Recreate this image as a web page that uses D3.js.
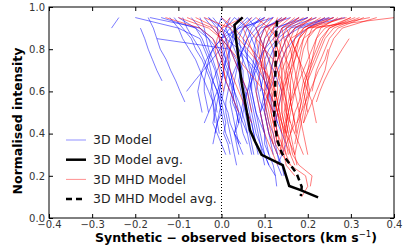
<!DOCTYPE html>
<html>
  <head>
    <meta charset="UTF-8">
    <title>Bisectors</title>
    <script src="https://d3js.org/d3.v7.min.js"></script>
    <style>
      body { margin: 0; background: #fff; }
      text { font-family: "DejaVu Sans", sans-serif; }
    </style>
  </head>
  <body>
    <div id="chart-container"></div>
  <script type="text/javascript">

    // Normalised intensity levels at which each bisector is sampled
    const levels = [0.95, 0.90, 0.85, 0.80, 0.75, 0.70, 0.65, 0.60, 0.55,
                    0.50, 0.45, 0.40, 0.35, 0.30, 0.25, 0.20, 0.15, 0.10];

    // 3D Model bisectors (x offsets, one value per level, null = not sampled)
    const modelBisectors = [
        [-0.238, -0.255],
        [null, -0.188, -0.178, -0.170, -0.160, -0.150, -0.138],
        [-0.17, -0.158, -0.150, -0.142, -0.128, -0.118, -0.106, -0.096, -0.085],
        [0.06, 0.035, 0.012, -0.003, -0.022, -0.042, -0.062, -0.081],
        [-0.166, -0.05, -0.02, -0.005, 0.005, 0.015, 0.02, 0.03, 0.04, 0.048, 0.055, 0.06],
        [null, null, -0.15, 0.02, 0.035, 0.04, 0.045, 0.05, 0.055, 0.06, 0.07, 0.075, 0.08],
        [-0.12, -0.10, -0.09, -0.075, -0.06, -0.05, -0.04, -0.03, -0.02, -0.018, -0.015],
        [-0.09, -0.08, -0.065, -0.05, -0.04, -0.03, -0.02, -0.01, 0.0, 0.005, 0.01, 0.005, 0.015, 0.02],
        [-0.05, -0.04, -0.035, -0.03, -0.02, -0.012, -0.005, 0.0, -0.005, 0.0, -0.01, -0.015],
        [0.0, -0.01, -0.005, 0.0, 0.01, 0.02, 0.025, 0.03, 0.025, 0.035, 0.04, 0.03, 0.045],
        [0.02, 0.01, 0.02, 0.03, 0.04, 0.05, 0.05, 0.06, 0.065, 0.07, 0.075, 0.08, 0.09, 0.1, 0.11, 0.125, 0.128],
        [0.1, 0.06, 0.05, 0.055, 0.06, 0.07, 0.075, 0.08, 0.085, 0.09, 0.095, 0.1, 0.1, 0.11],
        [0.15, 0.1, 0.08, 0.075, 0.08, 0.085, 0.09, 0.095, 0.1, 0.105, 0.11, 0.12, 0.125, 0.13, 0.135],
        [0.2, 0.12, 0.1, 0.095, 0.09, 0.095, 0.1, 0.11, 0.115, 0.12, 0.125],
        [0.286, 0.18, 0.14, 0.12, 0.11, 0.1, 0.095, 0.09],
        [0.25, 0.16, 0.13, 0.11, 0.1, 0.1, 0.105, 0.11, 0.11, 0.12, 0.13, 0.14, 0.15, 0.14, 0.13, 0.14],
        [-0.02, 0.0, 0.01, 0.015, 0.02, 0.015, 0.01, 0.005, 0.0, -0.005, -0.01, -0.015, -0.02],
        [0.04, 0.03, 0.025, 0.02, 0.015, 0.02, 0.025, 0.03, 0.035, 0.04, 0.05, 0.06, 0.065, 0.07],
        [-0.14, -0.06, -0.03, -0.01, 0.0, 0.01, 0.02, 0.025, 0.03, 0.035, 0.04],
        [-0.2, -0.1, -0.05, -0.04, -0.03, -0.025, -0.02, -0.01, -0.005, 0.0, 0.005, 0.01, 0.02],
        [0.08, 0.05, 0.04, 0.045, 0.05, 0.045, 0.04, 0.045, 0.05, 0.055, 0.06, 0.065, 0.07, 0.075],
        [0.12, 0.08, 0.06, 0.05, 0.04, 0.035, 0.03, 0.025, 0.02, 0.025, 0.03, 0.035, 0.04],
        [0.18, 0.13, 0.11, 0.1, 0.09, 0.08, 0.07, 0.06, 0.05, 0.045, 0.04],
        [-0.03, -0.01, 0.01, 0.04, 0.06, 0.08, 0.09, 0.095, 0.1, 0.1, 0.105, 0.11, 0.115, 0.12],
        [0.03, 0.06, 0.07, 0.08, 0.075, 0.07, 0.065, 0.06, 0.055, 0.05, 0.045, 0.05, 0.06],
        [-0.07, -0.05, -0.03, -0.02, -0.01, 0.0, 0.01, 0.02, 0.03, 0.04, 0.035, 0.03, 0.04, 0.05],
        [0.22, 0.15, 0.12, 0.1, 0.085, 0.075, 0.07, 0.065, 0.07, 0.075, 0.08, 0.085, 0.09, 0.095, 0.1],
        [0.1, 0.05, 0.03, 0.02, 0.01, 0.005, 0.0, -0.01, -0.02, -0.03, -0.04],
        [0.05, 0.02, 0.0, -0.02, -0.03, -0.035, -0.04, -0.04, -0.035, -0.03],
        [0.14, 0.1, 0.09, 0.085, 0.08, 0.075, 0.08, 0.085, 0.09, 0.1, 0.105, 0.11, 0.12, 0.13, 0.14, 0.145],
        [0.0, 0.02, 0.03, 0.04, 0.05, 0.06, 0.065, 0.07, 0.075, 0.08, 0.09, 0.1],
        [-0.1, -0.06, -0.045, -0.035, -0.025, -0.015, -0.01, -0.005, 0.005, 0.015, 0.02, 0.03, 0.035, 0.04],
        [0.26, 0.17, 0.15, 0.14, 0.13, 0.125, 0.12],
        [0.07, 0.04, 0.02, 0.01, 0.0, -0.01, -0.02, -0.025, -0.02, -0.015, -0.01, -0.005],
        [-0.04, -0.02, 0.0, 0.02, 0.03, 0.04, 0.05, 0.055, 0.06, 0.065, 0.07, 0.075, 0.08, 0.085],
        [0.03, 0.01, 0.0, 0.005, 0.01, 0.005, 0.0, -0.005, -0.01, -0.015, -0.02, -0.01, 0.0, 0.01],
        [0.16, 0.09, 0.07, 0.06, 0.06, 0.065, 0.07, 0.07, 0.075, 0.08, 0.085, 0.09, 0.095, 0.1, 0.11],
        [-0.03, 0.0, 0.03, 0.05, 0.07, 0.085, 0.1, 0.11, 0.12, 0.125, 0.13],
        [0.06, 0.08, 0.09, 0.1, 0.11, 0.12, 0.13, 0.14, 0.135, 0.13, 0.125, 0.13],
        [0.12, 0.04, 0.0, -0.02, -0.035, -0.045, -0.05, -0.055, -0.05, -0.045],
        [0.2, 0.14, 0.13, 0.12, 0.12, 0.115, 0.11, 0.1, 0.095, 0.09, 0.095, 0.1, 0.105, 0.11, 0.12, 0.125],
        [-0.11, -0.09, -0.07, -0.06, -0.045, -0.035, -0.025, -0.02, -0.015, -0.01],
        [0.24, 0.2, 0.17, 0.15, 0.14, 0.13, 0.12, 0.11, 0.1, 0.09],
        [0.09, 0.07, 0.06, 0.05, 0.04, 0.03, 0.02, 0.015, 0.01, 0.01, 0.015, 0.02, 0.025, 0.03, 0.035]
    ];

    // 3D MHD Model bisectors
    const mhdBisectors = [
        [0.402, 0.2, 0.16, 0.15, 0.14, 0.135, 0.13, 0.13, 0.125, 0.13, 0.135, 0.14],
        [0.344, 0.22, 0.19, 0.18, 0.17, 0.16, 0.155, 0.15, 0.15, 0.145, 0.15, 0.155],
        [null, null, 0.296, 0.28, 0.265, 0.25, 0.238, 0.228, 0.22],
        [null, null, null, 0.247, 0.24, 0.225, 0.215, 0.205, 0.195, 0.185, 0.175],
        [0.3, 0.25, 0.23, 0.22, 0.21, 0.2, 0.19, 0.185, 0.18, 0.17, 0.165, 0.16],
        [0.28, 0.22, 0.2, 0.19, 0.185, 0.18, 0.175, 0.17, 0.165, 0.16, 0.155, 0.15, 0.145, 0.15],
        [0.25, 0.2, 0.18, 0.17, 0.165, 0.16, 0.15, 0.14, 0.135, 0.13, 0.125, 0.13, 0.135, 0.14],
        [0.22, 0.17, 0.15, 0.14, 0.13, 0.12, 0.115, 0.11, 0.105, 0.1, 0.105, 0.11, 0.12],
        [0.18, 0.14, 0.13, 0.125, 0.12, 0.115, 0.11, 0.11, 0.105, 0.11, 0.115, 0.12, 0.125, 0.14, 0.16, 0.195, 0.2, 0.186],
        [0.15, 0.12, 0.11, 0.1, 0.095, 0.09, 0.085, 0.08, 0.085, 0.09, 0.095, 0.1, 0.11, 0.12, 0.13],
        [-0.13, -0.05, -0.02, -0.01, 0.0, 0.005, 0.01, 0.02, 0.03, 0.04],
        [-0.1, -0.03, 0.0, 0.01, 0.015, 0.02, 0.03, 0.04, 0.05, 0.06, 0.07],
        [-0.06, -0.01, -0.005, 0.0, 0.002, 0.005, 0.01],
        [0.05, 0.0, -0.01, -0.015, -0.01, -0.005, 0.0, 0.005],
        [0.0, 0.03, 0.05, 0.07, 0.09, 0.1, 0.11, 0.12, 0.125, 0.13, 0.14, 0.15, 0.16, 0.17],
        [0.1, 0.08, 0.09, 0.1, 0.11, 0.115, 0.12, 0.125, 0.13, 0.135, 0.14, 0.145, 0.15, 0.155],
        [0.2, 0.16, 0.15, 0.16, 0.165, 0.17, 0.175, 0.18, 0.185, 0.18, 0.175, 0.17],
        [0.26, 0.21, 0.2, 0.2, 0.205, 0.2, 0.195, 0.19, 0.195, 0.2, 0.19],
        [0.32, 0.26, 0.24, 0.23, 0.22, 0.21, 0.2, 0.195, 0.19, 0.185, 0.18, 0.175, 0.17],
        [0.12, 0.1, 0.11, 0.12, 0.125, 0.13, 0.135, 0.14, 0.145, 0.15, 0.155, 0.16, 0.165, 0.17, 0.175],
        [0.16, 0.13, 0.12, 0.13, 0.14, 0.145, 0.15, 0.155, 0.16, 0.165, 0.17, 0.175],
        [0.07, 0.05, 0.06, 0.07, 0.08, 0.09, 0.1, 0.105, 0.11, 0.115, 0.12, 0.125, 0.13],
        [0.24, 0.19, 0.17, 0.16, 0.15, 0.14, 0.14, 0.135, 0.13, 0.125, 0.12],
        [0.3, 0.24, 0.22, 0.21, 0.2, 0.19, 0.18, 0.17, 0.16, 0.155, 0.15, 0.145, 0.14, 0.135],
        [0.14, 0.11, 0.1, 0.095, 0.1, 0.105, 0.11, 0.115, 0.12, 0.12, 0.125, 0.13, 0.14, 0.15, 0.16],
        [-0.08, -0.02, 0.0, 0.02, 0.04, 0.06, 0.08, 0.1, 0.11, 0.12],
        [0.02, 0.0, 0.01, 0.02, 0.03, 0.04, 0.05, 0.06, 0.065, 0.07],
        [0.27, 0.23, 0.22, 0.215, 0.21, 0.205, 0.2, 0.2, 0.195, 0.19, 0.185, 0.18, 0.175, 0.17],
        [0.21, 0.18, 0.17, 0.165, 0.16, 0.155, 0.15, 0.145, 0.14, 0.14, 0.145, 0.15, 0.155, 0.16, 0.17],
        [0.19, 0.15, 0.14, 0.135, 0.13, 0.125, 0.12, 0.12, 0.115, 0.115, 0.12, 0.125, 0.13],
        [0.33, 0.27, 0.25, 0.24, 0.23, 0.22, 0.215, 0.21],
        [0.36, 0.28, 0.26, 0.25, 0.245, 0.24, 0.23, 0.22, 0.21, 0.2],
        [0.23, 0.19, 0.18, 0.175, 0.17, 0.165, 0.16, 0.16, 0.155, 0.15, 0.15, 0.155, 0.16, 0.165, 0.18, 0.21, 0.206],
        [0.11, 0.09, 0.08, 0.085, 0.09, 0.095, 0.1, 0.1, 0.1, 0.105, 0.11, 0.115, 0.12, 0.13],
        [0.17, 0.14, 0.145, 0.15, 0.15, 0.15, 0.155, 0.16, 0.16, 0.165, 0.17, 0.16, 0.15, 0.16],
        [0.29, 0.2, 0.18, 0.17, 0.16, 0.15, 0.145, 0.14, 0.14, 0.14, 0.145, 0.15],
        [0.04, 0.06, 0.08, 0.1, 0.12, 0.13, 0.14, 0.145, 0.15, 0.155, 0.16],
        [0.13, 0.12, 0.125, 0.13, 0.135, 0.14, 0.14, 0.145, 0.15, 0.15, 0.16, 0.17, 0.18, 0.19],
        [0.26, 0.2, 0.19, 0.185, 0.18, 0.175, 0.17, 0.165, 0.16, 0.155, 0.15],
        [-0.04, 0.02, 0.04, 0.06, 0.08, 0.1, 0.115, 0.125, 0.13, 0.135, 0.14, 0.145],
        [0.21, 0.17, 0.16, 0.17, 0.18, 0.19, 0.2, 0.205, 0.2, 0.195, 0.19],
        [0.15, 0.1, 0.09, 0.09, 0.095, 0.1, 0.105, 0.11, 0.12, 0.13, 0.135, 0.14, 0.14, 0.145, 0.15, 0.17],
        [0.31, 0.25, 0.235, 0.225, 0.215, 0.205, 0.195, 0.19, 0.185, 0.18],
        [0.08, 0.11, 0.13, 0.14, 0.15, 0.16, 0.165, 0.17, 0.175, 0.18, 0.185, 0.19, 0.195, 0.2],
        [0.18, 0.15, 0.16, 0.17, 0.18, 0.185, 0.19, 0.2, 0.21, 0.215, 0.22]
    ];

    // Averages
    const modelAvgX = [0.049, 0.030, 0.035, 0.047, 0.066, 0.078, 0.093, 0.142, 0.157, 0.182, 0.224];
    const modelAvgY = [0.951, 0.915, 0.828, 0.638, 0.417, 0.362, 0.299, 0.251, 0.152, 0.133, 0.098];
    const mhdAvgX = [0.129, 0.127, 0.125, 0.124, 0.122, 0.129, 0.140, 0.174, 0.186, 0.184];
    const mhdAvgY = [0.935, 0.880, 0.700, 0.550, 0.488, 0.370, 0.307, 0.212, 0.148, 0.104];

    const xTicks = [-0.4, -0.3, -0.2, -0.1, 0.0, 0.1, 0.2, 0.3, 0.4];
    const yTicks = [0.0, 0.2, 0.4, 0.6, 0.8, 1.0];
    const legendLabels = ["3D Model", "3D Model avg.", "3D MHD Model", "3D MHD Model avg."];

    const width = 407, height = 251;
    const margin = ({top: 7, right: 13, bottom: 33, left: 49});

    const x = d3.scaleLinear().domain([-0.4, 0.4]).range([margin.left, width - margin.right]);
    const y = d3.scaleLinear().domain([0, 1]).range([height - margin.bottom, margin.top]);

    const svg = d3.select("#chart-container").append("svg")
        .attr("width", width).attr("height", height);

    svg.append("clipPath").attr("id", "plot-clip")
        .append("rect")
        .attr("x", margin.left).attr("y", margin.top)
        .attr("width", width - margin.left - margin.right)
        .attr("height", height - margin.top - margin.bottom);

    const line = d3.line()
        .defined(d => d[0] != null)
        .x(d => x(d[0]))
        .y(d => y(d[1]));

    const plot = svg.append("g").attr("clip-path", "url(#plot-clip)");

    // zero line
    plot.append("line")
        .attr("x1", x(0)).attr("x2", x(0))
        .attr("y1", y(0)).attr("y2", y(1))
        .attr("stroke", "#000").attr("stroke-width", 1)
        .attr("stroke-dasharray", "1,2");

    const toPoints = b => b.map((v, i) => [v, levels[i]]);

    plot.append("g").selectAll("path")
        .data(modelBisectors)
        .join("path")
        .attr("d", b => line(toPoints(b)))
        .attr("fill", "none")
        .attr("stroke", "#0000ff")
        .attr("stroke-opacity", 0.65)
        .attr("stroke-width", 0.8);

    plot.append("g").selectAll("path")
        .data(mhdBisectors)
        .join("path")
        .attr("d", b => line(toPoints(b)))
        .attr("fill", "none")
        .attr("stroke", "#ff0000")
        .attr("stroke-opacity", 0.65)
        .attr("stroke-width", 0.8);

    plot.append("path")
        .attr("d", line(modelAvgX.map((v, i) => [v, modelAvgY[i]])))
        .attr("fill", "none")
        .attr("stroke", "#000")
        .attr("stroke-width", 2.5);

    plot.append("path")
        .attr("d", line(mhdAvgX.map((v, i) => [v, mhdAvgY[i]])))
        .attr("fill", "none")
        .attr("stroke", "#000")
        .attr("stroke-width", 2.5)
        .attr("stroke-dasharray", "6,4");

    // axes, ticks pointing inward
    const fmt = d3.format(".1f");
    const styleAxis = g => {
        g.select(".domain").remove();
        g.selectAll(".tick line").attr("stroke", "#000");
        g.selectAll(".tick text").attr("fill", "#333").style("font-size", "10px");
    };

    svg.append("g")
        .attr("transform", `translate(0,${y(0)})`)
        .call(d3.axisBottom(x).tickValues(xTicks).tickFormat(fmt).tickSizeInner(-4).tickSizeOuter(0).tickPadding(3))
        .call(styleAxis);

    svg.append("g")
        .attr("transform", `translate(0,${y(1)})`)
        .call(d3.axisTop(x).tickValues(xTicks).tickFormat("").tickSizeInner(-4).tickSizeOuter(0))
        .call(styleAxis);

    svg.append("g")
        .attr("transform", `translate(${x(-0.4)},0)`)
        .call(d3.axisLeft(y).tickValues(yTicks).tickFormat(fmt).tickSizeInner(-4).tickSizeOuter(0).tickPadding(4))
        .call(styleAxis);

    svg.append("g")
        .attr("transform", `translate(${x(0.4)},0)`)
        .call(d3.axisRight(y).tickValues(yTicks).tickFormat("").tickSizeInner(-4).tickSizeOuter(0))
        .call(styleAxis);

    svg.append("rect")
        .attr("x", x(-0.4)).attr("y", y(1))
        .attr("width", x(0.4) - x(-0.4)).attr("height", y(0) - y(1))
        .attr("fill", "none").attr("stroke", "#000").attr("stroke-width", 1);

    // axis labels
    const xLabel = svg.append("text")
        .attr("x", 95).attr("y", 242)
        .style("font-size", "12.5px").style("font-weight", "bold")
        .attr("fill", "#000");
    xLabel.append("tspan").text("Synthetic \u2212 observed bisectors (km s");
    xLabel.append("tspan").attr("dy", -5).style("font-size", "8.5px").style("font-weight", "normal").text("\u22121");
    xLabel.append("tspan").attr("dy", 5).text(")");

    svg.append("text")
        .attr("transform", `translate(22,${121}) rotate(-90)`)
        .attr("text-anchor", "middle")
        .style("font-size", "12.5px").style("font-weight", "bold")
        .attr("fill", "#000")
        .text("Normalised intensity");

    // legend
    const legend = svg.append("g");
    const legendStyles = [
        {stroke: "#0000ff", opacity: 0.55, width: 0.8, dash: null},
        {stroke: "#000", opacity: 1, width: 2.5, dash: null},
        {stroke: "#ff0000", opacity: 0.55, width: 0.8, dash: null},
        {stroke: "#000", opacity: 1, width: 2.5, dash: "6,4"}
    ];
    legendLabels.forEach((label, i) => {
        const ly = 140 + i * 19.7;
        const s = legendStyles[i];
        legend.append("line")
            .attr("x1", 66).attr("x2", 86)
            .attr("y1", ly).attr("y2", ly)
            .attr("stroke", s.stroke).attr("stroke-opacity", s.opacity)
            .attr("stroke-width", s.width)
            .attr("stroke-dasharray", s.dash);
        legend.append("text")
            .attr("x", 93).attr("y", ly).attr("dy", "0.35em")
            .style("font-size", "12.5px").attr("fill", "#222")
            .text(label);
    });
  </script>
  </body>
</html>
